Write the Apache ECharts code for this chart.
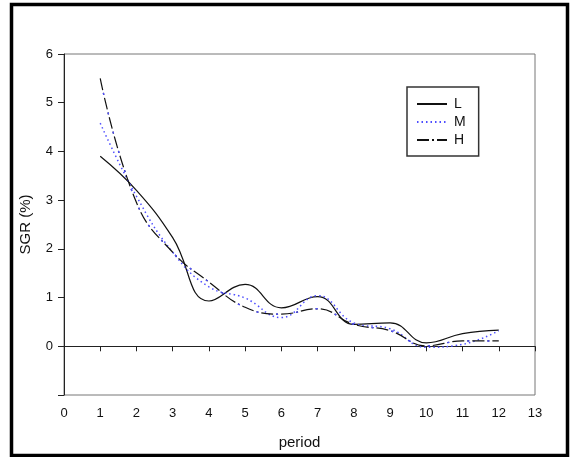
<!DOCTYPE html>
<html>
<head>
<meta charset="utf-8">
<script src="https://cdn.jsdelivr.net/npm/echarts@6/dist/echarts.min.js"></script>
<style>
  html, body { margin: 0; padding: 0; background: #fff; }
  #chart { width: 570px; height: 457px; }
</style>
</head>
<body>
<div id="chart"></div>
<script>
// period 1..12
const periods = [1, 2, 3, 4, 5, 6, 7, 8, 9, 10, 11, 12];
const sgrL = [3.90, 3.20, 2.23, 0.93, 1.27, 0.79, 1.02, 0.45, 0.48, 0.07, 0.26, 0.33];
const sgrM = [4.58, 3.08, 1.93, 1.22, 0.99, 0.59, 1.04, 0.48, 0.36, -0.02, 0.04, 0.32];
const sgrH = [5.50, 2.95, 1.93, 1.32, 0.80, 0.66, 0.77, 0.45, 0.32, 0.01, 0.11, 0.11];

const pairs = arr => periods.map((p, i) => [p, arr[i]]);

const font = 'Liberation Sans, Arial, sans-serif';
const chart = echarts.init(document.getElementById('chart'));

chart.setOption({
  backgroundColor: '#fff',
  animation: false,
  textStyle: { fontFamily: font },
  grid: {
    left: 64, right: 35, top: 54, bottom: 62,
    show: true, borderColor: '#777', borderWidth: 1
  },
  graphic: [{
    type: 'rect',
    shape: { x: 11.5, y: 4.5, width: 556, height: 451 },
    style: { fill: 'none', stroke: '#000', lineWidth: 3.5 },
    silent: true
  }],
  legend: {
    orient: 'vertical',
    left: 407, top: 87,
    padding: [10, 13, 9, 9],
    itemGap: 4,
    itemWidth: 30, itemHeight: 14,
    borderColor: '#333', borderWidth: 1.5,
    data: ['L', 'M', 'H'],
    itemStyle: { opacity: 0 },
    textStyle: { fontSize: 14, color: '#111', fontFamily: font, padding: [0, 0, 0, 2] }
  },
  xAxis: {
    type: 'value',
    min: 0, max: 13, interval: 1,
    name: 'period',
    nameLocation: 'middle',
    nameGap: 40,
    nameTextStyle: { fontSize: 15, color: '#111' },
    axisLine: { lineStyle: { color: '#222', width: 1 } },
    axisTick: { show: true, length: 5, lineStyle: { color: '#222' } },
    axisLabel: { fontSize: 13, color: '#111', margin: 12 },
    splitLine: { show: false }
  },
  yAxis: {
    type: 'value',
    min: -1, max: 6, interval: 1,
    name: 'SGR (%)',
    nameLocation: 'middle',
    nameGap: 31,
    nameTextStyle: { fontSize: 15, color: '#111' },
    axisLine: { show: true, lineStyle: { color: '#222', width: 1 } },
    axisTick: { show: true, length: 6, lineStyle: { color: '#222' } },
    axisLabel: {
      fontSize: 13, color: '#111', margin: 11,
      formatter: v => (v < 0 ? '' : String(v))
    },
    splitLine: { show: false }
  },
  series: [
    {
      name: 'L', type: 'line', smooth: 0.45, symbol: 'none',
      data: pairs(sgrL),
      itemStyle: { color: '#111' },
      lineStyle: { color: '#111', width: 1.2, type: 'solid' }
    },
    {
      name: 'M', type: 'line', smooth: 0.45, symbol: 'none',
      data: pairs(sgrM),
      itemStyle: { color: '#4d4dff' },
      lineStyle: { color: '#4d4dff', width: 1.5, type: [1.5, 3] }
    },
    {
      name: 'H', type: 'line', smooth: 0.45, symbol: 'none',
      data: pairs(sgrH),
      itemStyle: { color: '#111' },
      lineStyle: { color: '#111', width: 1.2, type: [12, 3, 2, 3] }
    },
    {
      // blue dots over the dots of H
      name: 'H dots', type: 'line', smooth: 0.45, symbol: 'none',
      data: pairs(sgrH),
      lineStyle: { color: '#4d4dff', width: 1.5, type: [2, 18], dashOffset: 5 },
      silent: true
    }
  ]
});
</script>
</body>
</html>
